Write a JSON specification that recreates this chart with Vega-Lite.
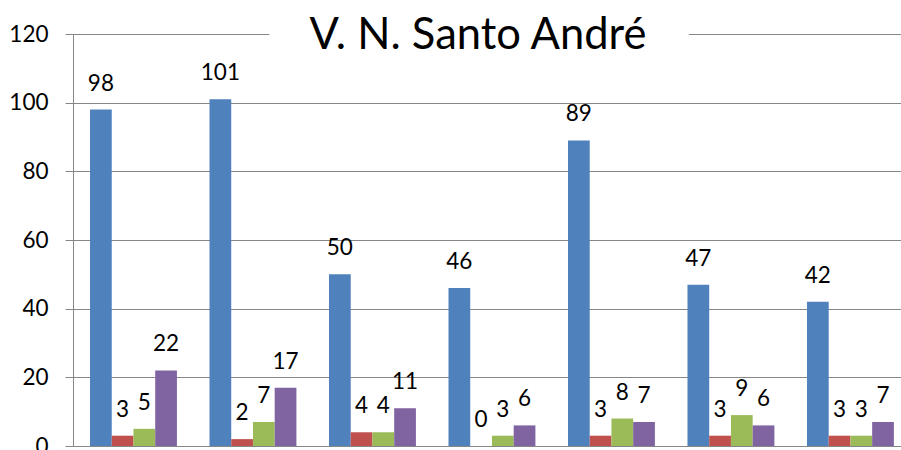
{
  "$schema": "https://vega.github.io/schema/vega-lite/v6.json",
  "width": 828,
  "height": 412,
  "autosize": {"type": "none"},
  "padding": {"left": 73, "top": 34, "right": 0, "bottom": 4},
  "background": "white",
  "config": {
    "view": {"stroke": null},
    "font": "Lato",
    "axis": {"labelFont": "Lato", "labelColor": "#000000"}
  },
  "datasets": {
    "bars": [
      {"grupo": "1", "serie": "s1", "valor": 98},
      {"grupo": "1", "serie": "s2", "valor": 3},
      {"grupo": "1", "serie": "s3", "valor": 5},
      {"grupo": "1", "serie": "s4", "valor": 22},
      {"grupo": "2", "serie": "s1", "valor": 101},
      {"grupo": "2", "serie": "s2", "valor": 2},
      {"grupo": "2", "serie": "s3", "valor": 7},
      {"grupo": "2", "serie": "s4", "valor": 17},
      {"grupo": "3", "serie": "s1", "valor": 50},
      {"grupo": "3", "serie": "s2", "valor": 4},
      {"grupo": "3", "serie": "s3", "valor": 4},
      {"grupo": "3", "serie": "s4", "valor": 11},
      {"grupo": "4", "serie": "s1", "valor": 46},
      {"grupo": "4", "serie": "s2", "valor": 0},
      {"grupo": "4", "serie": "s3", "valor": 3},
      {"grupo": "4", "serie": "s4", "valor": 6},
      {"grupo": "5", "serie": "s1", "valor": 89},
      {"grupo": "5", "serie": "s2", "valor": 3},
      {"grupo": "5", "serie": "s3", "valor": 8},
      {"grupo": "5", "serie": "s4", "valor": 7},
      {"grupo": "6", "serie": "s1", "valor": 47},
      {"grupo": "6", "serie": "s2", "valor": 3},
      {"grupo": "6", "serie": "s3", "valor": 9},
      {"grupo": "6", "serie": "s4", "valor": 6},
      {"grupo": "7", "serie": "s1", "valor": 42},
      {"grupo": "7", "serie": "s2", "valor": 3},
      {"grupo": "7", "serie": "s3", "valor": 3},
      {"grupo": "7", "serie": "s4", "valor": 7}
    ],
    "titulo": [{"texto": "V. N. Santo André"}]
  },
  "layer": [
    {
      "data": {"name": "bars"},
      "mark": {"type": "bar"},
      "encoding": {
        "x": {
          "field": "grupo", "type": "nominal", "sort": null,
          "scale": {"paddingInner": 0.2727, "paddingOuter": 0.101, "align": 0.705},
          "axis": {"labels": false, "ticks": false, "title": null, "domain": true, "domainColor": "#868686", "domainWidth": 1, "grid": false}
        },
        "xOffset": {"field": "serie", "type": "nominal", "sort": null, "scale": {"paddingInner": 0, "paddingOuter": 0}},
        "y": {
          "field": "valor", "type": "quantitative",
          "scale": {"domain": [0, 120], "nice": false},
          "axis": {
            "values": [0, 20, 40, 60, 80, 100, 120],
            "title": null,
            "labelFontSize": 22.5,
            "labelPadding": 17,
            "tickSize": 8,
            "tickColor": "#868686",
            "tickWidth": 1,
            "grid": true,
            "gridColor": "#868686",
            "gridWidth": 1,
            "domainColor": "#868686",
            "domainWidth": 1
          }
        },
        "color": {
          "field": "serie", "type": "nominal", "sort": null,
          "scale": {"domain": ["s1", "s2", "s3", "s4"], "range": ["#4F81BD", "#C0504D", "#9BBB59", "#8064A2"]},
          "legend": null
        }
      }
    },
    {
      "data": {"name": "bars"},
      "mark": {"type": "text", "fontSize": 22.5, "font": "Lato", "color": "#000000", "baseline": "alphabetic", "align": "center", "dy": -19},
      "encoding": {
        "x": {"field": "grupo", "type": "nominal", "sort": null},
        "xOffset": {"field": "serie", "type": "nominal", "sort": null},
        "y": {"field": "valor", "type": "quantitative"},
        "text": {"field": "valor", "type": "quantitative"}
      }
    },
    {
      "data": {"name": "titulo"},
      "mark": {"type": "text", "fontSize": 43.5, "font": "Lato", "fill": "white", "stroke": "white", "strokeWidth": 88, "strokeJoin": "round", "baseline": "alphabetic", "align": "center", "dy": 15, "dx": -9},
      "encoding": {
        "y": {"datum": 120, "type": "quantitative"},
        "text": {"field": "texto", "type": "nominal"}
      }
    },
    {
      "data": {"name": "titulo"},
      "mark": {"type": "text", "fontSize": 43.5, "font": "Lato", "color": "#000000", "baseline": "alphabetic", "align": "center", "dy": 15, "dx": -9},
      "encoding": {
        "y": {"datum": 120, "type": "quantitative"},
        "text": {"field": "texto", "type": "nominal"}
      }
    }
  ]
}
